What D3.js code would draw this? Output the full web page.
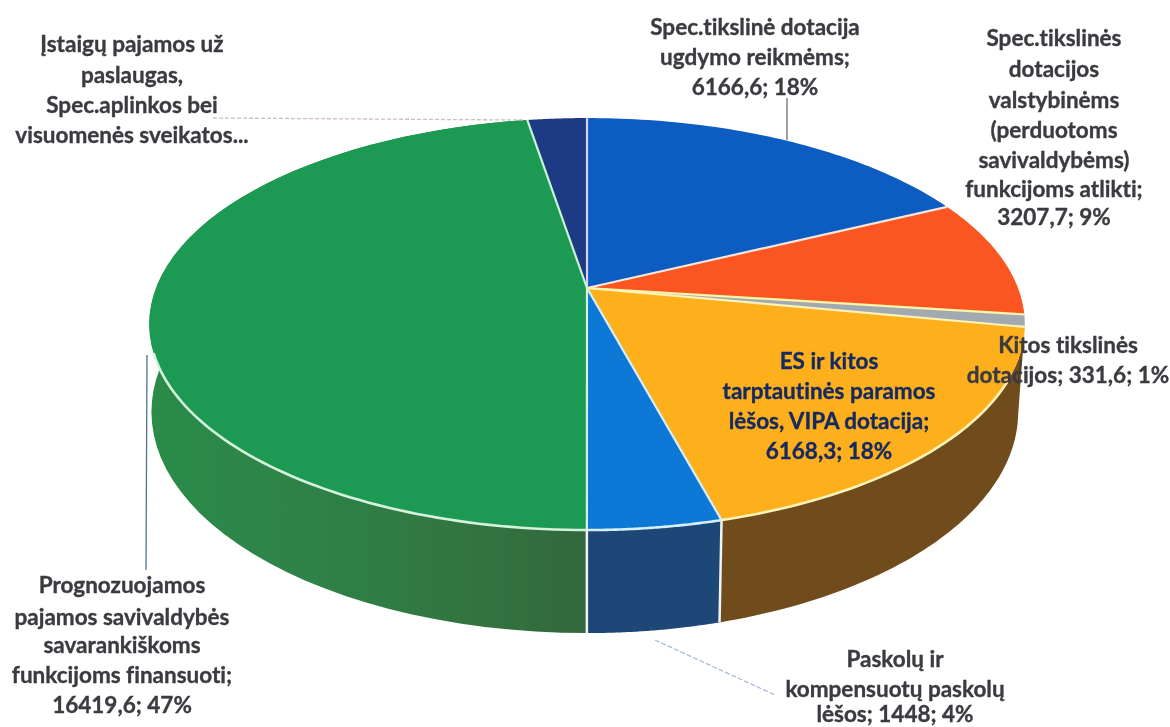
<!DOCTYPE html>
<html><head><meta charset="utf-8">
<script src="https://cdn.jsdelivr.net/npm/d3@7"></script>
<style>html,body{margin:0;padding:0;background:#fff}svg{display:block}</style>
</head><body><svg id="c" width="1170" height="727"></svg>
<script>
const categories = [
  "Spec.tikslinė dotacija ugdymo reikmėms",
  "Spec.tikslinės dotacijos valstybinėms (perduotoms savivaldybėms) funkcijoms atlikti",
  "Kitos tikslinės dotacijos",
  "ES ir kitos tarptautinės paramos lėšos, VIPA dotacija",
  "Paskolų ir kompensuotų paskolų lėšos",
  "Prognozuojamos pajamos savivaldybės savarankiškoms funkcijoms finansuoti",
  "Įstaigų pajamos už paslaugas, Spec.aplinkos bei visuomenės sveikatos..."
];
const values = [6166.6, 3207.7, 331.6, 6168.3, 1448, 16419.6, 900];
const topColors = ["#0a5bc2", "#fb5522", "#a3a9b1", "#fdb01e", "#0a78d6", "#1f9a52", "#1e3a84"];
const sideColors = ["#173f78", "#9a3a1a", "#6a6d72", "#704c1e", "#1d4677", "#2f7a44", "#162a5c"];
const edgeColors = ["#d8d0e4", "#f7e6dc", "#fff6a8", "#fff3b8", "#d5f0fa", "#d5f3dc", "#c9f3d2"];
const labelLines = [
  ["Spec.tikslinė dotacija", "ugdymo reikmėms;", "6166,6; 18%"],
  ["Spec.tikslinės", "dotacijos", "valstybinėms", "(perduotoms", "savivaldybėms)", "funkcijoms atlikti;", "3207,7; 9%"],
  ["Kitos tikslinės", "dotacijos; 331,6; 1%"],
  ["ES ir kitos", "tarptautinės paramos", "lėšos, VIPA dotacija;", "6168,3; 18%"],
  ["Paskolų ir", "kompensuotų paskolų", "lėšos; 1448; 4%"],
  ["Prognozuojamos", "pajamos savivaldybės", "savarankiškoms", "funkcijoms finansuoti;", "16419,6; 47%"],
  ["Įstaigų pajamos už", "paslaugas,", "Spec.aplinkos bei", "visuomenės sveikatos..."]
];
const labelX = [755, 1054, 1068, 829, 895, 122, 132];
const labelY = [[27,57,87],[38,69,100,130,160,189,217],[345,375],[361,391,421,451],[659,689,714],[585,617,645,675,705],[44,75,105,135]];
const labelFill = ["#3a3a40","#3a3a40","#3a3a40","#182a60","#3a3a40","#3a3a40","#3a3a40"];
const leaders = [
  [[787,98],[787,140]],
  [[655,640],[775,695]],
  [[147,355],[146,570]],
  [[213,118],[523,120]],
  [[1021,360],[1018,384]]
];
const leaderColors = ["#6a6f78","#a8bcd6","#4f7390","#cdbfbc","#3a3a40"];
const leaderDash = [null,"5 2",null,"4 2",null];

const svg = d3.select("#c");
const defs = svg.append("defs");
defs.append("filter").attr("id","soft").attr("x","-5%").attr("y","-5%").attr("width","110%").attr("height","110%")
  .append("feGaussianBlur").attr("stdDeviation",0.6);
const grad = defs.append("linearGradient").attr("id","greenSide").attr("gradientUnits","userSpaceOnUse")
  .attr("x1",150).attr("x2",587).attr("y1",0).attr("y2",0);
grad.append("stop").attr("offset",0).attr("stop-color","#2b8c4a");
grad.append("stop").attr("offset",0.45).attr("stop-color","#2f7f46");
grad.append("stop").attr("offset",1).attr("stop-color","#33693c");
const root = svg.append("g").attr("filter","url(#soft)");

const cx = 587, cy = 288, rx = 431, ry = 199.7, k = 0.175, depth = 85;
const rimFrom = 115*Math.PI/180, rimTo = 252*Math.PI/180;
const pie = d3.pie().sort(null).value(d=>d)(values);
const proj = (t, h) => {
  const u = Math.sin(t), v = -Math.cos(t), w = 1 - k*v;
  const sx = h ? (u < 0 ? 0.995 : 0.985) : 1;
  return [cx + sx*rx*u/w, cy + (ry*v + h)/w];
};
const line = d3.line();
const rim = (a, b, h) => d3.range(0, 61).map(i => proj(a + (b-a)*i/60, h));

// side wall
[3,4,5].forEach(i=>{
  const s = pie[i];
  const top = rim(s.startAngle, s.endAngle, 0);
  const bot = rim(s.startAngle, s.endAngle, depth).reverse();
  root.append("path").attr("d", line(top.concat(bot))+"Z").attr("fill", i===5 ? "url(#greenSide)" : sideColors[i]);
});
// seam lines on the wall
[pie[3].endAngle, pie[4].endAngle].forEach(t=>{
  root.append("path").attr("d", line([proj(t,0),proj(t,depth)])).attr("stroke","#eef4f2").attr("stroke-width",2.5).attr("fill","none");
});
// top face
pie.forEach((s,i)=>{
  const pts = [[cx,cy]].concat(rim(s.startAngle, s.endAngle, 0));
  root.append("path").attr("d", line(pts)+"Z").attr("fill", topColors[i]);
});
// radial seams
pie.forEach((s,i)=>{
  root.append("path").attr("d", line([[cx,cy],proj(s.startAngle,0)])).attr("stroke",edgeColors[i]).attr("stroke-width",2.2).attr("fill","none");
});
// front rim highlight
pie.forEach((s,i)=>{
  const a = Math.max(s.startAngle, rimFrom), b = Math.min(s.endAngle, rimTo);
  if (b > a) root.append("path").attr("d", line(rim(a, b, 0))).attr("stroke",edgeColors[i]).attr("stroke-width",2.6).attr("fill","none");
});
// leaders
leaders.forEach((l,i)=>{
  root.append("path").attr("d", line(l)).attr("stroke",leaderColors[i]).attr("stroke-width",1.3)
    .attr("stroke-dasharray",leaderDash[i]).attr("fill","none");
});
// labels
labelLines.forEach((ls,i)=>{
  ls.forEach((t,j)=>{
    root.append("text").attr("x",labelX[i]).attr("y",labelY[i][j]).attr("dy","0.35em")
      .attr("text-anchor","middle").attr("fill",labelFill[i])
      .attr("stroke",labelFill[i]).attr("stroke-width",0.35)
      .style("font-variant-ligatures","none")
      .attr("font-family","Lato, 'Open Sans', sans-serif").attr("font-weight",700).attr("font-size",22.5).text(t);
  });
});
</script></body></html>
